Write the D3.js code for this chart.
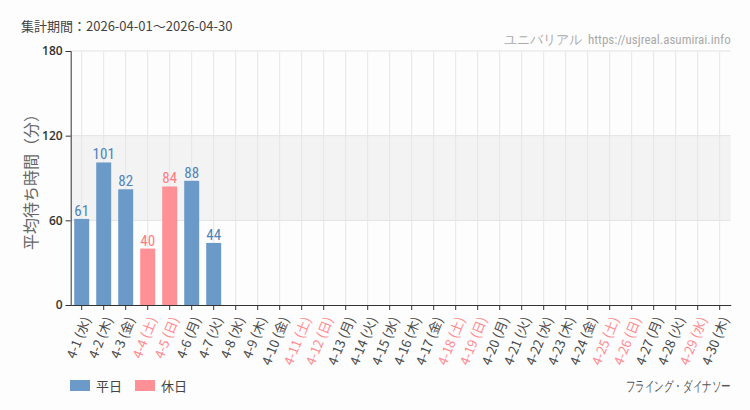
<!DOCTYPE html>
<html>
<head>
<meta charset="utf-8">
<script src="https://cdn.jsdelivr.net/npm/d3@7"></script>
<style>
  body { margin: 0; background: #fdfdfd; }
  svg { display: block; }
  .cond { font-family: "Liberation Sans Narrow", "Roboto Condensed", "DejaVu Sans Condensed", sans-serif; }
</style>
</head>
<body>
<div id="chart"></div>
<script>
// data
const days = ["4-1", "4-2", "4-3", "4-4", "4-5", "4-6", "4-7", "4-8", "4-9", "4-10",
  "4-11", "4-12", "4-13", "4-14", "4-15", "4-16", "4-17", "4-18", "4-19", "4-20",
  "4-21", "4-22", "4-23", "4-24", "4-25", "4-26", "4-27", "4-28", "4-29", "4-30"];
const weekdays = ["水", "木", "金", "土", "日", "月", "火", "水", "木", "金",
  "土", "日", "月", "火", "水", "木", "金", "土", "日", "月",
  "火", "水", "木", "金", "土", "日", "月", "火", "水", "木"];
const holidays = ["4-4", "4-5", "4-11", "4-12", "4-18", "4-19", "4-25", "4-26", "4-29"];
const waits = [61, 101, 82, 40, 84, 88, 44, null, null, null,
  null, null, null, null, null, null, null, null, null, null,
  null, null, null, null, null, null, null, null, null, null];
const yTicks = [0, 60, 120, 180];

const width = 750;
const height = 410;
const plotLeft = 70.7, plotRight = 730.7, plotTop = 51, plotBottom = 305;

const blue = "#6b9ac8", pink = "#ff9196";
const blueText = "#4f84bb", pinkText = "#ff7c82";

const svg = d3.select("#chart").append("svg")
  .attr("width", width)
  .attr("height", height);

const x = d3.scaleBand().domain(days).range([plotLeft, plotRight])
  .paddingInner(0.32).paddingOuter(0.16);
const y = d3.scaleLinear().domain([0, 180]).range([plotBottom, plotTop]);

const isHoliday = (d) => holidays.includes(d);

// shaded band 60-120
svg.append("rect")
  .attr("x", plotLeft)
  .attr("y", y(120))
  .attr("width", plotRight - plotLeft)
  .attr("height", y(60) - y(120))
  .attr("fill", "#f3f3f3");

// vertical grid
svg.append("g")
  .selectAll("line")
  .data(days)
  .enter()
  .append("line")
  .attr("x1", (d) => x(d) + x.bandwidth() / 2)
  .attr("x2", (d) => x(d) + x.bandwidth() / 2)
  .attr("y1", plotTop)
  .attr("y2", plotBottom)
  .style("stroke", "#e6e6e6")
  .style("stroke-width", 1);

// horizontal grid
svg.append("g")
  .selectAll("line")
  .data(yTicks.slice(1))
  .enter()
  .append("line")
  .attr("x1", plotLeft)
  .attr("x2", plotRight)
  .attr("y1", (d) => y(d))
  .attr("y2", (d) => y(d))
  .style("stroke", "#e3e3e3")
  .style("stroke-width", 1);

// bars
const data = days.map((d, i) => ({ day: d, value: waits[i] })).filter((d) => d.value !== null);

svg.append("g")
  .selectAll("rect")
  .data(data)
  .enter()
  .append("rect")
  .attr("x", (d) => x(d.day))
  .attr("y", (d) => y(d.value))
  .attr("width", x.bandwidth())
  .attr("height", (d) => y(0) - y(d.value))
  .attr("fill", (d) => isHoliday(d.day) ? pink : blue);

svg.append("g")
  .selectAll("text")
  .data(data)
  .enter()
  .append("text")
  .attr("class", "cond")
  .attr("x", (d) => x(d.day) + x.bandwidth() / 2)
  .attr("y", (d) => y(d.value) - 3)
  .attr("text-anchor", "middle")
  .attr("font-size", 15)
  .attr("fill", (d) => isHoliday(d.day) ? pinkText : blueText)
  .text((d) => d.value);

// y axis
const yAxis = svg.append("g")
  .attr("transform", `translate(${plotLeft},0)`)
  .call(d3.axisLeft(y).tickValues(yTicks).tickSize(5).tickPadding(3));
yAxis.select(".domain").attr("stroke", "#333");
yAxis.selectAll(".tick line").attr("stroke", "#333");
yAxis.selectAll("text")
  .attr("font-family", "'Open Sans', 'DejaVu Sans', sans-serif")
  .attr("font-size", 12)
  .attr("font-weight", "600")
  .attr("fill", "#333");

// x axis
const xAxis = svg.append("g")
  .attr("transform", `translate(0,${plotBottom})`)
  .call(d3.axisBottom(x).tickSize(5).tickPadding(4).tickSizeOuter(0));
xAxis.select(".domain").attr("stroke", "#333");
xAxis.selectAll(".tick line").attr("stroke", "#333");
xAxis.selectAll("text")
  .attr("font-family", "'Noto Sans CJK JP', sans-serif")
  .attr("font-size", 13)
  .attr("fill", (d) => isHoliday(d) ? "#ff8a8f" : "#4a4a4a")
  .attr("text-anchor", "end")
  .attr("dy", "0.35em")
  .attr("transform", "translate(-3,9) rotate(-68)")
  .text((d, i) => `${d} (${weekdays[i]})`);

// y label
svg.append("text")
  .attr("transform", `translate(37,${(plotTop + plotBottom) / 2}) rotate(-90)`)
  .attr("text-anchor", "middle")
  .attr("font-family", "'Noto Sans CJK JP', sans-serif")
  .attr("font-size", 16)
  .attr("fill", "#666")
  .text("平均待ち時間（分）");

// title
svg.append("text")
  .attr("x", 21)
  .attr("y", 31)
  .attr("font-family", "'Noto Sans CJK JP', sans-serif")
  .attr("font-size", 13)
  .attr("fill", "#444")
  .text("集計期間：2026-04-01～2026-04-30");

// watermark
svg.append("text")
  .attr("class", "cond")
  .attr("x", plotRight)
  .attr("y", 44)
  .attr("text-anchor", "end")
  .attr("font-size", 13)
  .attr("fill", "#aaa")
  .attr("xml:space", "preserve")
  .text("ユニバリアル  https://usjreal.asumirai.info");

// legend
const legendItems = [{ label: "平日", color: blue, x: 70 }, { label: "休日", color: pink, x: 135 }];
const legend = svg.append("g").selectAll("g").data(legendItems).enter().append("g");
legend.append("rect")
  .attr("x", (d) => d.x)
  .attr("y", 380)
  .attr("width", 20)
  .attr("height", 11)
  .attr("fill", (d) => d.color);
legend.append("text")
  .attr("x", (d) => d.x + 26)
  .attr("y", 386)
  .attr("dy", "0.35em")
  .attr("font-family", "'Noto Sans CJK JP', sans-serif")
  .attr("font-size", 13)
  .attr("fill", "#444")
  .text((d) => d.label);

// attraction name (condensed by a horizontal squeeze)
svg.append("text")
  .attr("class", "cond")
  .attr("transform", `translate(${plotRight},386) scale(0.68,1)`)
  .attr("dy", "0.35em")
  .attr("text-anchor", "end")
  .attr("font-size", 14)
  .attr("fill", "#555")
  .text("フライング・ダイナソー");
</script>
</body>
</html>
